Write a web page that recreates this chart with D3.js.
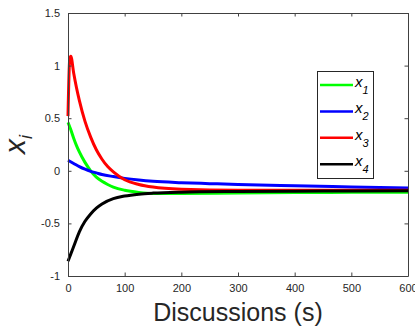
<!DOCTYPE html>
<html>
<head>
<meta charset="utf-8">
<script src="https://cdn.jsdelivr.net/npm/d3@7"></script>
<style>
  body { margin: 0; background: #fff; }
  text { font-family: "Liberation Sans", Arial, sans-serif; }
</style>
</head>
<body>
<svg width="415" height="329"></svg>
<script>
// values
let tX1 = [0, 5, 10, 15, 20, 30, 40, 50, 60, 70, 80, 100, 125, 150, 200, 300, 400, 500, 600];
let x1 = [0.46, 0.39, 0.31, 0.24, 0.18, 0.08, 0.0, -0.06, -0.1, -0.13, -0.155, -0.185, -0.205, -0.215, -0.215, -0.21, -0.207, -0.205, -0.205];

let tX2 = [0, 10, 20, 30, 40, 50, 60, 80, 100, 125, 150, 200, 250, 300, 400, 500, 600];
let x2 = [0.1, 0.07, 0.04, 0.015, -0.005, -0.02, -0.035, -0.055, -0.072, -0.088, -0.1, -0.113, -0.122, -0.13, -0.142, -0.153, -0.163];

let tX3 = [0, 3, 5, 10, 15, 20, 30, 40, 50, 60, 70, 80, 100, 125, 150, 200, 300, 400, 500, 600];
let x3 = [0.52, 1.06, 1.09, 0.93, 0.79, 0.67, 0.47, 0.32, 0.2, 0.11, 0.04, -0.01, -0.085, -0.13, -0.155, -0.175, -0.185, -0.185, -0.185, -0.185];

let tX4 = [0, 5, 10, 20, 30, 40, 50, 60, 80, 100, 125, 150, 200, 300, 400, 500, 600];
let x4 = [-0.86, -0.79, -0.72, -0.58, -0.48, -0.41, -0.355, -0.315, -0.265, -0.24, -0.222, -0.212, -0.203, -0.197, -0.194, -0.192, -0.19];

let seriesNames = ["1", "2", "3", "4"];
let seriesColors = ["#00ff00", "#0000ff", "#ff0000", "#000000"];
let xTicks = [0, 100, 200, 300, 400, 500, 600];
let yTicks = [-1, -0.5, 0, 0.5, 1, 1.5];

let series = [
    { name: seriesNames[0], color: seriesColors[0], t: tX1, v: x1 },
    { name: seriesNames[1], color: seriesColors[1], t: tX2, v: x2 },
    { name: seriesNames[2], color: seriesColors[2], t: tX3, v: x3 },
    { name: seriesNames[3], color: seriesColors[3], t: tX4, v: x4 }
];

let plotLeft = 68, plotRight = 408, plotTop = 13, plotBottom = 276;
let axisColor = "#404040";

var svg = d3.select("svg");

var x = d3.scaleLinear().domain([0, 600]).range([plotLeft, plotRight]);
var y = d3.scaleLinear().domain([-1, 1.5]).range([plotBottom, plotTop]);

var line = d3.line()
    .x(function (d) { return x(d[0]); })
    .y(function (d) { return y(d[1]); })
    .curve(d3.curveMonotoneX);

// curves
svg.append("g")
    .selectAll("path")
    .data(series)
    .join("path")
    .attr("fill", "none")
    .attr("stroke", function (d) { return d.color; })
    .attr("stroke-width", 3)
    .attr("d", function (d) {
        return line(d.t.map(function (t, i) { return [t, d.v[i]]; }));
    });

// axes (ticks pointing inward, box on)
function styleAxis(g) {
    g.select(".domain").attr("stroke", axisColor);
    g.selectAll(".tick line").attr("stroke", axisColor);
    g.selectAll(".tick text")
        .attr("fill", "#262626")
        .style("font-size", "11px")
        .style("font-family", "Liberation Sans, Arial, sans-serif");
}

svg.append("g")
    .attr("transform", "translate(0," + plotBottom + ")")
    .call(d3.axisBottom(x).tickValues(xTicks).tickSizeInner(-3.5).tickSizeOuter(0).tickPadding(8).tickFormat(d3.format("d")))
    .call(styleAxis);

svg.append("g")
    .attr("transform", "translate(0," + plotTop + ")")
    .call(d3.axisTop(x).tickValues(xTicks).tickSizeInner(-3.5).tickSizeOuter(0).tickFormat(""))
    .call(styleAxis);

svg.append("g")
    .attr("transform", "translate(" + plotLeft + ",0)")
    .call(d3.axisLeft(y).tickValues(yTicks).tickSizeInner(-3.5).tickSizeOuter(0).tickPadding(8).tickFormat(function (d) { return String(d); }))
    .call(styleAxis);

svg.append("g")
    .attr("transform", "translate(" + plotRight + ",0)")
    .call(d3.axisRight(y).tickValues(yTicks).tickSizeInner(-3.5).tickSizeOuter(0).tickFormat(""))
    .call(styleAxis);

// axis labels
svg.append("text")
    .attr("x", (plotLeft + plotRight) / 2)
    .attr("y", 321)
    .attr("text-anchor", "middle")
    .attr("fill", "#262626")
    .style("font-size", "25px")
    .text("Discussions (s)");

var yl = svg.append("text")
    .attr("transform", "translate(25," + ((plotTop + plotBottom) / 2) + ") rotate(-90)")
    .attr("text-anchor", "middle")
    .attr("fill", "#262626");
yl.append("tspan").style("font-size", "30px").style("font-style", "italic").text("x");
yl.append("tspan").style("font-size", "18px").style("font-style", "italic").attr("dy", 7).text("i");

// legend
var legend = svg.append("g");
legend.append("rect")
    .attr("x", 317.5).attr("y", 71.5)
    .attr("width", 56).attr("height", 107)
    .attr("fill", "#fff")
    .attr("stroke", "#262626")
    .attr("stroke-width", 1);

var item = legend.selectAll("g.item")
    .data(series)
    .join("g")
    .attr("class", "item")
    .attr("transform", function (d, i) { return "translate(0," + (85 + i * 26.4) + ")"; });

item.append("line")
    .attr("x1", 320).attr("x2", 353)
    .attr("stroke", function (d) { return d.color; })
    .attr("stroke-width", 2.5);

var lt = item.append("text")
    .attr("x", 355)
    .attr("y", 2)
    .attr("fill", "#000");
lt.append("tspan").style("font-size", "15px").style("font-style", "italic").text("x");
lt.append("tspan").style("font-size", "11px").style("font-style", "italic").attr("dy", 7).text(function (d) { return d.name; });
</script>
</body>
</html>
